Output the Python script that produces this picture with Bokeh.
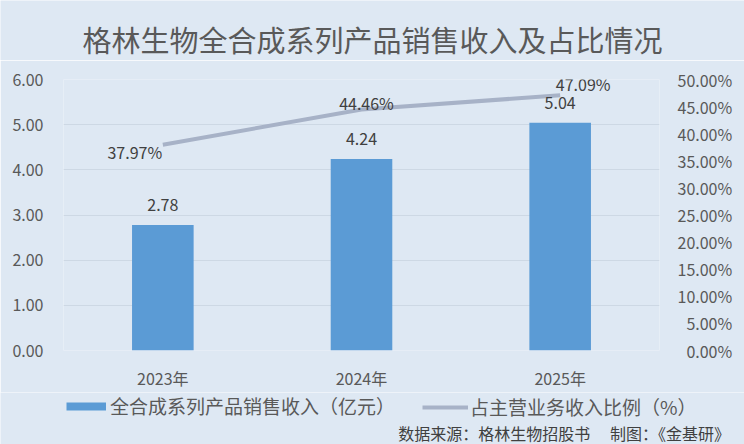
from bokeh.plotting import figure
from bokeh.layouts import column
from bokeh.models import (ColumnDataSource, Range1d, FactorRange, LinearAxis, Legend,
                          LegendItem, Label, FixedTicker, NumeralTickFormatter,
                          CustomJSTickFormatter)
from bokeh.core.properties import value
from bokeh.embed import file_html
from bokeh.resources import INLINE

# ---- data ----
years = ["2023年", "2024年", "2025年"]
revenue = [2.78, 4.24, 5.04]
share = [0.3797, 0.4446, 0.4709]
revenue_labels = ["2.78", "4.24", "5.04"]
share_labels = ["37.97%", "44.46%", "47.09%"]
left_ticks = [0, 1, 2, 3, 4, 5, 6]
right_ticks = [0.0, 0.05, 0.1, 0.15, 0.2, 0.25, 0.3, 0.35, 0.4, 0.45, 0.5]

title_text = "格林生物全合成系列产品销售收入及占比情况"
source_text = "数据来源：格林生物招股书\u3000  制图：《金基研》"
bar_legend = "全合成系列产品销售收入（亿元）"
line_legend = "占主营业务收入比例（%）"

# ---- style ----
FONT = "Noto Sans CJK SC"
BG = "#dee8f3"
GRID = "#cdd8e4"
BAR = "#5b9bd5"
LINE = "#a7b2c7"
TXT = "#595959"
LBL = "#404040"
share_dx = [-28, 5, 23]
share_dy = [7, -7, -11]

src = ColumnDataSource(dict(year=years, revenue=revenue, share=share,
                            rlab=revenue_labels, slab=share_labels,
                            dx=share_dx, dy=share_dy))


def strip(height):
    f = figure(width=744, height=height, x_range=Range1d(0, 744), y_range=Range1d(0, height),
               x_axis_type=None, y_axis_type=None,
               output_backend="svg", toolbar_location=None, min_border=0,
               background_fill_color=BG, border_fill_color=BG, outline_line_color=None)
    if "frame_align" in f.properties():
        f.frame_align = False
    return f


# ---------------- title strip ----------------
p0 = strip(60)
p0.add_layout(Label(x=372, y=22, x_units="screen", y_units="screen", text=title_text,
                    text_align="center", text_baseline="middle", text_font=FONT,
                    text_font_size="29px", text_color=TXT))

# ---------------- main chart ----------------
p = figure(width=744, height=332,
           x_range=FactorRange(*years), y_range=Range1d(0, 6),
           output_backend="svg", toolbar_location=None,
           min_border_left=63, min_border_right=85,
           min_border_top=19, min_border_bottom=38,
           background_fill_color=BG, border_fill_color=BG,
           outline_line_color=None)
p.extra_y_ranges = {"pct": Range1d(0, 0.5)}

p.yaxis.ticker = FixedTicker(ticks=left_ticks)
p.yaxis.formatter = NumeralTickFormatter(format="0.00")
p.yaxis.major_label_standoff = 20

raxis = LinearAxis(y_range_name="pct", ticker=FixedTicker(ticks=right_ticks),
                   formatter=CustomJSTickFormatter(code="""
const s = (tick*100).toFixed(2) + "%";
return tick < 0.0999 ? "\\u2007" + s : s;
"""))
raxis.major_label_standoff = 18
p.add_layout(raxis, "right")

p.xaxis.major_label_standoff = 15

for ax in [p.xaxis[0], p.yaxis[0], raxis]:
    ax.axis_line_color = None
    ax.major_tick_line_color = None
    ax.minor_tick_line_color = None
    ax.major_tick_out = 0
    ax.major_tick_in = 0
    ax.minor_tick_out = 0
    ax.minor_tick_in = 0
    ax.major_label_text_font = FONT
    ax.major_label_text_font_size = "16px"
    ax.major_label_text_color = TXT

p.xgrid.grid_line_color = None
p.ygrid.grid_line_color = GRID
p.ygrid.grid_line_width = 1

p.vbar(x="year", top="revenue", width=0.31, source=src, fill_color=BAR, line_color=None)
p.line(x="year", y="share", y_range_name="pct", source=src, line_color=LINE, line_width=4)

p.text(x="year", y="revenue", text="rlab", source=src, y_offset=-20,
       text_align="center", text_baseline="middle", text_font=value(FONT),
       text_font_size="16px", text_color=LBL)
p.text(x="year", y="share", text="slab", source=src, y_range_name="pct",
       x_offset="dx", y_offset="dy",
       text_align="center", text_baseline="middle", text_font=value(FONT),
       text_font_size="16px", text_color=LBL)

# ---------------- legend + source strip ----------------
p2 = strip(52)

nan = float("nan")
proxy_bar = p2.line(x=[nan], y=[nan], line_color=BAR, line_width=8)
proxy_line = p2.line(x=[nan], y=[nan], line_color=LINE, line_width=4)

common = dict(orientation="horizontal", glyph_height=20, label_height=20,
              padding=0, margin=0, border_line_color=None, background_fill_alpha=0,
              label_text_font=FONT, label_text_font_size="19px", label_text_color=TXT)
leg1 = Legend(items=[LegendItem(label=bar_legend, renderers=[proxy_bar])],
              location=(66, 25), glyph_width=40, label_standoff=4, **common)
leg2 = Legend(items=[LegendItem(label=line_legend, renderers=[proxy_line])],
              location=(422, 24), glyph_width=46, label_standoff=2, **common)
p2.add_layout(leg1)
p2.add_layout(leg2)

p2.add_layout(Label(x=733, y=12, x_units="screen", y_units="screen", text=source_text,
                    text_align="right", text_baseline="middle", text_font=FONT,
                    text_font_size="16px", text_color=LBL))

layout = column(column(p0, spacing=0), p, column(p2, spacing=0), spacing=0)
open("out.html", "w").write(file_html(layout, INLINE))
